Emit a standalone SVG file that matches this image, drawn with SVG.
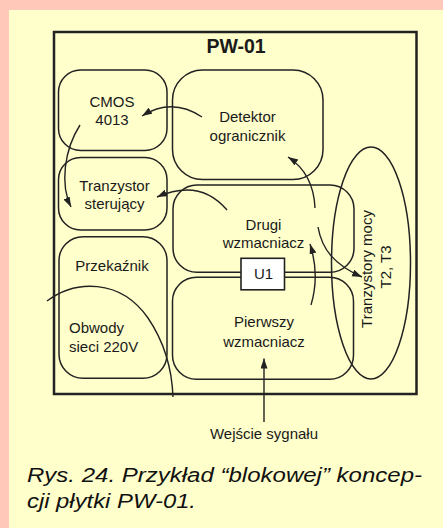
<svg xmlns="http://www.w3.org/2000/svg" width="443" height="528" viewBox="0 0 443 528">
<style>
.box{fill:none;stroke:#222;stroke-width:1.5}
.lbl{font-family:"Liberation Sans",Arial,sans-serif;font-size:15px;fill:#1a1a1a;text-anchor:middle}
.con{fill:none;stroke:#222;stroke-width:1.4}
</style>
<defs>
<marker id="ah" markerUnits="userSpaceOnUse" markerWidth="11" markerHeight="8" refX="10" refY="3.5" orient="auto">
<path d="M0,0 L10,3.5 L0,7 z" fill="#222"/>
</marker>
</defs>
<rect x="0" y="0" width="443" height="528" fill="#FFC8B9"/>
<rect x="9" y="10" width="434" height="518" fill="#FFFFCC"/>
<g id="board">
<rect x="54" y="32" width="362.5" height="362" fill="none" stroke="#222" stroke-width="2.5"/>
<text x="236" y="53" style="font-family:'Liberation Sans',Arial,sans-serif;font-size:19.5px;font-weight:bold;fill:#1a1a1a;text-anchor:middle">PW-01</text>
</g>
<g id="cmos">
<rect class="box" x="58.5" y="70" width="108.5" height="80.5" rx="22"/>
<text class="lbl" x="112" y="106.5">CMOS</text>
<text class="lbl" x="112" y="125">4013</text>
</g>
<g id="detektor">
<rect class="box" x="172.5" y="70" width="150.5" height="109.5" rx="30"/>
<text class="lbl" x="247.5" y="122">Detektor</text>
<text class="lbl" x="247.5" y="141">ogranicznik</text>
</g>
<g id="tranzystor">
<rect class="box" x="58.5" y="157.5" width="108.5" height="72.5" rx="22"/>
<text class="lbl" x="114.5" y="191">Tranzystor</text>
<text class="lbl" x="114.5" y="209">sterujący</text>
</g>
<g id="drugi">
<rect class="box" x="173" y="185" width="181" height="87.3" rx="24"/>
<text class="lbl" x="263.5" y="230">Drugi</text>
<text class="lbl" x="263.5" y="247.5">wzmacniacz</text>
</g>
<g id="przekaznik">
<rect class="box" x="59" y="236.7" width="108" height="141.6" rx="24"/>
<text class="lbl" x="112" y="270.7">Przekaźnik</text>
<text class="lbl" x="69" y="333.3" style="text-anchor:start">Obwody</text>
<text class="lbl" x="69" y="351.7" style="text-anchor:start">sieci 220V</text>
</g>
<g id="pierwszy">
<rect class="box" x="172.5" y="277.3" width="181" height="102" rx="24"/>
<text class="lbl" x="264" y="326.7">Pierwszy</text>
<text class="lbl" x="264" y="346.7">wzmacniacz</text>
</g>
<g id="tranzystory">
<ellipse class="box" cx="371" cy="263" rx="39.5" ry="116"/>
<text class="lbl" transform="translate(371.5,269) rotate(-90)">Tranzystory mocy</text>
<text class="lbl" transform="translate(390.5,267) rotate(-90)">T2, T3</text>
</g>
<g id="connectors">
<path class="con" d="M202,117 Q172,97 142,116" marker-end="url(#ah)"/>
<path class="con" d="M80,125 C64,150 60,185 71,207" marker-end="url(#ah)"/>
<path class="con" d="M227,210 Q200,178 157,197" marker-end="url(#ah)"/>
<path class="con" d="M315,208 C314,185 305,168 288,157" marker-end="url(#ah)"/>
<path class="con" d="M318,227 C322,250 335,265 362,277" marker-end="url(#ah)"/>
<path class="con" d="M311,305 Q320,275 310,244" marker-end="url(#ah)"/>
<path class="con" d="M264,422 L264,358.5" marker-end="url(#ah)"/>
<path class="con" d="M47,301 C75,280 120,278 148,318 C165,343 172,370 173,397"/>
</g>
<g id="u1">
<rect x="241" y="258.3" width="43.5" height="31.5" fill="#fff" stroke="#222" stroke-width="1.6"/>
<text class="lbl" x="263.5" y="279">U1</text>
</g>
<g id="wejscie">
<text class="lbl" x="264" y="439">Wejście sygnału</text>
</g>
<g id="caption" style="font-family:'Liberation Sans',Arial,sans-serif;font-size:20px;font-style:italic;fill:#111">
<text x="27" y="481.5" textLength="395" lengthAdjust="spacingAndGlyphs">Rys. 24. Przykład “blokowej” koncep-</text>
<text x="27" y="508" textLength="169" lengthAdjust="spacingAndGlyphs">cji płytki PW-01.</text>
</g>
</svg>
